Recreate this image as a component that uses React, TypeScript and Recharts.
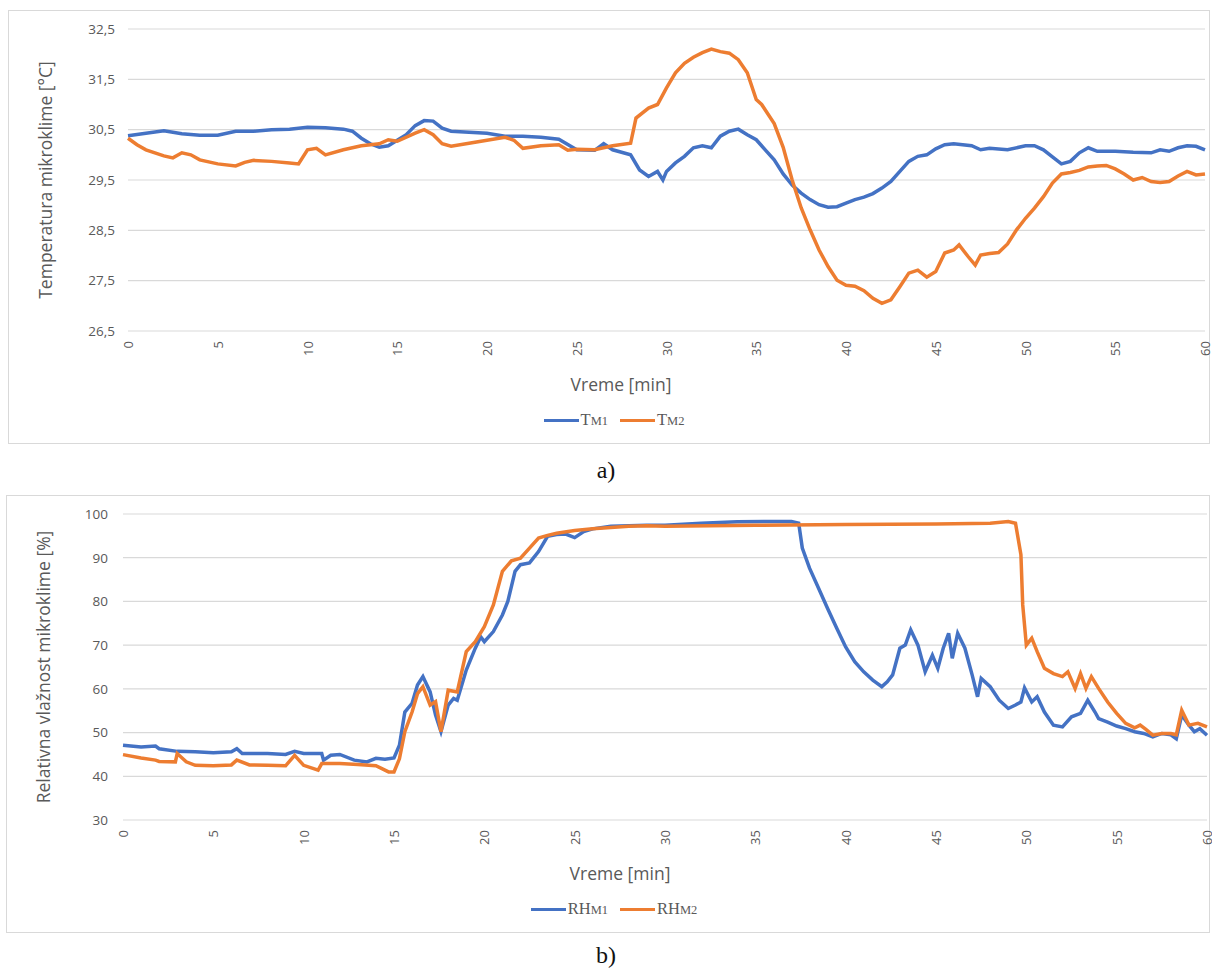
import React from 'react';
import { LineChart, Line, XAxis, YAxis, CartesianGrid, Legend } from 'recharts';

const BLUE = '#4472C4';
const ORANGE = '#ED7D31';
const GRID = '#d9d9d9';
const TEXT = '#595959';
const SANS = '"Open Sans", "Liberation Sans", sans-serif';
const SERIF = '"Liberation Serif", "DejaVu Serif", serif';

// x axis (minutes) shared by both panels
const xTicks = [0, 5, 10, 15, 20, 25, 30, 35, 40, 45, 50, 55, 60];
const tempTicks = [26.5, 27.5, 28.5, 29.5, 30.5, 31.5, 32.5];
const rhTicks = [30, 40, 50, 60, 70, 80, 90, 100];

// a) temperature, TM1
const tm1Time = [
  0, 1, 2, 3, 4, 5, 6, 7, 8, 9, 10, 11, 12,
  12.5, 13, 13.5, 14, 14.5, 15, 15.5, 16, 16.5, 17, 17.5, 18,
  19, 20, 21, 22, 23, 24, 25, 26,
  26.5, 27, 28, 28.5, 29, 29.5, 29.8, 30,
  30.5, 31, 31.5, 32, 32.5, 33, 33.5, 34, 34.5, 35, 35.5, 36, 36.5, 37, 37.5, 38, 38.5, 39,
  39.5, 40, 40.5, 41, 41.5, 42, 42.5, 43, 43.5, 44, 44.5, 45, 45.5, 46, 46.5, 47, 47.5, 48,
  49, 50, 50.5, 51, 51.5, 52, 52.5, 53, 53.5, 54,
  55, 56, 57, 57.5, 58, 58.5, 59, 59.5, 60,
];
const tm1Values = [
  30.38, 30.43, 30.48, 30.42, 30.39, 30.39, 30.47, 30.47, 30.5, 30.51, 30.55, 30.54, 30.51,
  30.47, 30.33, 30.22, 30.15, 30.18, 30.29, 30.4, 30.58, 30.68, 30.67, 30.53, 30.47,
  30.45, 30.43, 30.37, 30.37, 30.35, 30.31, 30.1, 30.09,
  30.22, 30.1, 30.0, 29.7, 29.57, 29.67, 29.5, 29.67,
  29.84, 29.97, 30.14, 30.18, 30.14, 30.37, 30.47, 30.51, 30.4, 30.3, 30.1, 29.9, 29.62, 29.4, 29.24, 29.11, 29.01, 28.96,
  28.97, 29.04, 29.11, 29.16, 29.23, 29.34, 29.47, 29.67, 29.87, 29.97, 30.0, 30.12, 30.2, 30.22, 30.2, 30.18, 30.1, 30.13,
  30.1, 30.18, 30.18, 30.1, 29.96, 29.82, 29.87, 30.04, 30.14, 30.07,
  30.07, 30.05, 30.04, 30.1, 30.07, 30.14, 30.18, 30.17, 30.1,
];

// a) temperature, TM2
const tm2Time = [
  0, 0.5, 1, 2, 2.5, 3, 3.5, 4, 5, 6,
  6.5, 7, 8, 9, 9.5, 10, 10.5, 11, 12, 13,
  14, 14.5, 15, 16, 16.5, 17, 17.5, 18, 19, 20,
  21, 21.5, 22, 23, 24, 24.5, 25, 26, 27, 28,
  28.3, 29, 29.5, 30, 30.5, 31, 31.5, 32, 32.5, 33,
  33.5, 34, 34.5, 35, 35.3, 36, 36.5, 37, 37.5, 38,
  38.5, 39, 39.5, 40, 40.5, 41, 41.5, 42, 42.5, 43,
  43.5, 44, 44.5, 45, 45.5, 46, 46.3, 46.8, 47.2, 47.5,
  48, 48.5, 49, 49.5, 50, 50.5, 51, 51.5, 52, 52.5,
  53, 53.5, 54, 54.5, 55, 55.5, 56, 56.5, 57, 57.5,
  58, 58.5, 59, 59.5, 60,
];
const tm2Values = [
  30.33, 30.2, 30.1, 29.98, 29.94, 30.04, 30.0, 29.9, 29.82, 29.78,
  29.85, 29.89, 29.87, 29.84, 29.82, 30.1, 30.13, 30.0, 30.1, 30.18,
  30.22, 30.3, 30.27, 30.43, 30.5, 30.4, 30.22, 30.17, 30.23, 30.29,
  30.35, 30.29, 30.13, 30.18, 30.2, 30.09, 30.11, 30.1, 30.18, 30.23,
  30.73, 30.93, 31.0, 31.33, 31.63, 31.82, 31.94, 32.03, 32.1, 32.05,
  32.02, 31.89, 31.63, 31.1, 31.0, 30.62, 30.15, 29.5, 28.95, 28.51,
  28.11, 27.78, 27.51, 27.41, 27.39, 27.3, 27.15, 27.05, 27.12, 27.38,
  27.65, 27.71, 27.57, 27.68, 28.05, 28.11, 28.21, 27.98, 27.81, 28.01,
  28.04, 28.06, 28.23, 28.51, 28.74, 28.94, 29.17, 29.44, 29.62, 29.65,
  29.69, 29.76, 29.78, 29.79, 29.72, 29.62, 29.5, 29.55, 29.47, 29.45,
  29.47, 29.58, 29.67, 29.6, 29.62,
];

// b) relative humidity, RHM1
const rh1Time = [
  0, 1, 1.8, 2, 3, 4, 5, 6, 6.3, 6.6,
  7, 8, 9, 9.5, 10, 11, 11.1, 11.5, 12, 12.8,
  13.5, 14, 14.5, 15, 15.3, 15.6, 16, 16.3, 16.6, 17,
  17.3, 17.6, 18, 18.3, 18.5, 19, 19.5, 19.8, 20, 20.5,
  21, 21.3, 21.7, 22, 22.5, 23, 23.5, 24, 24.5, 25,
  25.5, 26, 27, 28, 29, 30, 32, 34, 36, 37,
  37.4, 37.6, 38, 38.5, 39, 39.5, 40, 40.5, 41, 41.5,
  42, 42.3, 42.6, 43, 43.3, 43.6, 44, 44.4, 44.8, 45.1,
  45.4, 45.7, 45.9, 46.2, 46.6, 47, 47.3, 47.5, 48, 48.5,
  49, 49.4, 49.7, 49.9, 50.3, 50.6, 51, 51.5, 52, 52.5,
  53, 53.4, 53.8, 54, 54.5, 55, 55.5, 56, 56.5, 57,
  57.5, 58, 58.3, 58.6, 59, 59.3, 59.6, 60,
];
const rh1Values = [
  47.1, 46.7, 46.9, 46.3, 45.7, 45.6, 45.4, 45.6, 46.3, 45.2,
  45.2, 45.2, 45.0, 45.7, 45.2, 45.2, 43.7, 44.8, 45.0, 43.7,
  43.3, 44.1, 43.9, 44.2, 47.1, 54.7, 56.7, 60.9, 62.8, 59.3,
  54.0, 50.2, 56.3, 57.8, 57.4, 64.3, 69.3, 71.9, 70.8, 73.1,
  76.9, 80.0, 86.9, 88.4, 88.8, 91.4, 94.9, 95.3, 95.4, 94.6,
  96.0, 96.6, 97.2, 97.3, 97.4, 97.4, 97.9, 98.2, 98.3, 98.3,
  97.9, 92.2, 87.6, 83.0, 78.4, 73.9, 69.6, 66.2, 63.9, 62.0,
  60.5, 61.6, 63.2, 69.3, 70.0, 73.5, 70.0, 63.9, 67.7, 64.7,
  69.3, 72.7, 67.0, 72.7, 69.3, 63.2, 58.2, 62.4, 60.5, 57.4,
  55.5, 56.3, 57.0, 60.2, 57.0, 58.2, 54.7, 51.7, 51.3, 53.6,
  54.4, 57.4, 54.7, 53.2, 52.4, 51.5, 50.9, 50.2, 49.8, 49.0,
  49.8, 49.5, 48.6, 54.0, 51.7, 50.2, 50.9, 49.4,
];

// b) relative humidity, RHM2
const rh2Time = [
  0, 1, 1.8, 2, 2.9, 3.0, 3.5, 4, 5, 6,
  6.3, 7, 8, 9, 9.5, 10, 10.8, 11, 12, 13,
  14, 14.7, 15, 15.3, 15.6, 16, 16.3, 16.6, 17, 17.3,
  17.6, 18, 18.5, 19, 19.5, 20, 20.5, 21, 21.5, 22,
  22.5, 23, 23.5, 24, 25, 26, 27, 28, 29, 30,
  35, 40, 45, 48, 49, 49.4, 49.7, 49.8, 50, 50.3,
  50.6, 51, 51.5, 52, 52.3, 52.7, 53, 53.3, 53.6, 54,
  54.5, 55, 55.5, 56, 56.3, 56.6, 57, 57.5, 58, 58.3,
  58.6, 59, 59.5, 60,
];
const rh2Values = [
  44.95, 44.2, 43.7, 43.4, 43.3, 45.2, 43.3, 42.5, 42.4, 42.6,
  43.7, 42.6, 42.5, 42.4, 44.8, 42.5, 41.4, 42.9, 42.9, 42.7,
  42.4, 41.0, 41.0, 44.0, 50.2, 54.7, 58.9, 60.5, 56.3, 57.1,
  50.2, 59.7, 59.3, 68.5, 70.8, 74.2, 79.2, 86.9, 89.3, 89.9,
  92.2, 94.5, 95.1, 95.6, 96.2, 96.6, 96.9, 97.2, 97.3, 97.2,
  97.4, 97.6, 97.7, 97.9, 98.3, 97.9, 90.7, 79.2, 70.0, 71.6,
  68.5, 64.7, 63.5, 62.8, 63.9, 60.1, 63.5, 60.1, 62.8, 60.1,
  57.0, 54.4, 52.1, 51.1, 51.7, 50.8, 49.4, 49.8, 49.8, 49.5,
  55.1, 51.7, 52.1, 51.3,
];

const toPoints = (t: number[], v: number[]) => t.map((x, i) => ({ t: x, v: v[i] }));

type Series = { key: string; main: string; sub: string; color: string; data: { t: number; v: number }[] };

const RotatedTick = (props: any) => {
  const { x, y, payload } = props;
  return (
    <text
      x={x}
      y={y}
      transform={`rotate(-90, ${x}, ${y})`}
      textAnchor="end"
      dominantBaseline="central"
      fill={TEXT}
      fontSize={13}
      fontFamily={SANS}
    >
      {payload.value}
    </text>
  );
};

const SeriesLegend = ({ items }: { items: Series[] }) => (
  <div
    style={{
      display: 'flex',
      justifyContent: 'center',
      alignItems: 'center',
      height: 30,
      gap: 12,
      fontFamily: SERIF,
      color: TEXT,
      paddingLeft: 14,
    }}
  >
    {items.map((it) => (
      <div key={it.key} style={{ display: 'flex', alignItems: 'center' }}>
        <span style={{ display: 'inline-block', width: 35, height: 3, background: it.color, marginRight: 2 }} />
        <span style={{ fontSize: 16.5 }}>{it.main}</span>
        <span style={{ fontSize: 12.5, marginTop: 2 }}>{it.sub}</span>
      </div>
    ))}
  </div>
);

interface PanelProps {
  left: number;
  top: number;
  width: number;
  height: number;
  yAxisWidth: number;
  rightMargin: number;
  yDomain: [number, number];
  yTicks: number[];
  yFormat: (v: number) => string;
  yTitle: string;
  yTickGap: number;
  series: Series[];
  caption: string;
  captionTop: number;
}

const Panel = (p: PanelProps) => {
  const chartW = p.width - 2;
  const chartH = p.height - 2;
  return (
    <>
      <div
        style={{
          position: 'absolute',
          left: p.left,
          top: p.top,
          width: chartW,
          height: chartH,
          border: `1px solid ${GRID}`,
          background: '#fff',
        }}
      >
        <LineChart width={chartW} height={chartH} margin={{ top: 18, right: p.rightMargin, bottom: 8, left: 0 }}>
          <CartesianGrid vertical={false} stroke={GRID} strokeWidth={1.2} />
          <XAxis
            type="number"
            dataKey="t"
            domain={[0, 60]}
            ticks={xTicks}
            interval={0}
            height={74}
            axisLine={false}
            tickLine={false}
            tickSize={0}
            tickMargin={10}
            tick={<RotatedTick />}
            label={{
              value: 'Vreme [min]',
              content: (lp: any) => {
                const vb = lp.viewBox || { y: 0, height: 0 };
                return (
                  <text
                    x={chartW / 2 + 12}
                    y={vb.y + 53}
                    textAnchor="middle"
                    dominantBaseline="central"
                    fill={TEXT}
                    fontSize={17.5}
                    fontFamily={SANS}
                  >
                    Vreme [min]
                  </text>
                );
              },
            }}
          />
          <YAxis
            type="number"
            domain={p.yDomain}
            ticks={p.yTicks}
            interval={0}
            width={p.yAxisWidth}
            axisLine={false}
            tickLine={false}
            tickSize={0}
            tickMargin={p.yTickGap}
            tickFormatter={p.yFormat}
            tick={{ fill: TEXT, fontSize: 13.5, fontFamily: SANS }}
            label={{
              value: p.yTitle,
              content: (lp: any) => {
                const vb = lp.viewBox || { y: 0, height: 0 };
                const cy = vb.y + vb.height / 2;
                return (
                  <text
                    x={36}
                    y={cy}
                    transform={`rotate(-90, 36, ${cy})`}
                    textAnchor="middle"
                    dominantBaseline="central"
                    fill={TEXT}
                    fontSize={17.5}
                    fontFamily={SANS}
                  >
                    {p.yTitle}
                  </text>
                );
              },
            }}
          />
          <Legend verticalAlign="bottom" height={30} content={() => <SeriesLegend items={p.series} />} />
          {p.series.map((s) => (
            <Line
              key={s.key}
              data={s.data}
              dataKey="v"
              name={s.main + s.sub}
              type="linear"
              stroke={s.color}
              strokeWidth={3.5}
              dot={false}
              activeDot={false}
              isAnimationActive={false}
            />
          ))}
        </LineChart>
      </div>
      <div
        style={{
          position: 'absolute',
          left: 0,
          width: 1212,
          top: p.captionTop,
          textAlign: 'center',
          fontFamily: SERIF,
          fontSize: 24,
          color: '#111',
          lineHeight: '30px',
        }}
      >
        {p.caption}
      </div>
    </>
  );
};

const commaOne = (v: number) => v.toFixed(1).replace('.', ',');

export default function App() {
  const tempSeries: Series[] = [
    { key: 'tm1', main: 'T', sub: 'M1', color: BLUE, data: toPoints(tm1Time, tm1Values) },
    { key: 'tm2', main: 'T', sub: 'M2', color: ORANGE, data: toPoints(tm2Time, tm2Values) },
  ];
  const rhSeries: Series[] = [
    { key: 'rh1', main: 'RH', sub: 'M1', color: BLUE, data: toPoints(rh1Time, rh1Values) },
    { key: 'rh2', main: 'RH', sub: 'M2', color: ORANGE, data: toPoints(rh2Time, rh2Values) },
  ];

  return (
    <div style={{ position: 'absolute', left: 0, top: 0, width: 1212, height: 972, background: '#fff' }}>
      <style>{`.recharts-surface { overflow: visible; } .recharts-wrapper { overflow: visible; }`}</style>
      <Panel
        left={8}
        top={10}
        width={1202}
        height={434}
        yAxisWidth={119}
        rightMargin={4}
        yDomain={[26.5, 32.5]}
        yTicks={tempTicks}
        yFormat={commaOne}
        yTitle="Temperatura mikroklime [°C]"
        yTickGap={13}
        series={tempSeries}
        caption="a)"
        captionTop={455}
      />
      <Panel
        left={6}
        top={495}
        width={1204}
        height={438}
        yAxisWidth={116}
        rightMargin={2}
        yDomain={[30, 100]}
        yTicks={rhTicks}
        yFormat={(v: number) => String(v)}
        yTitle="Relativna vlažnost mikroklime [%]"
        yTickGap={15}
        series={rhSeries}
        caption="b)"
        captionTop={940}
      />
    </div>
  );
}
